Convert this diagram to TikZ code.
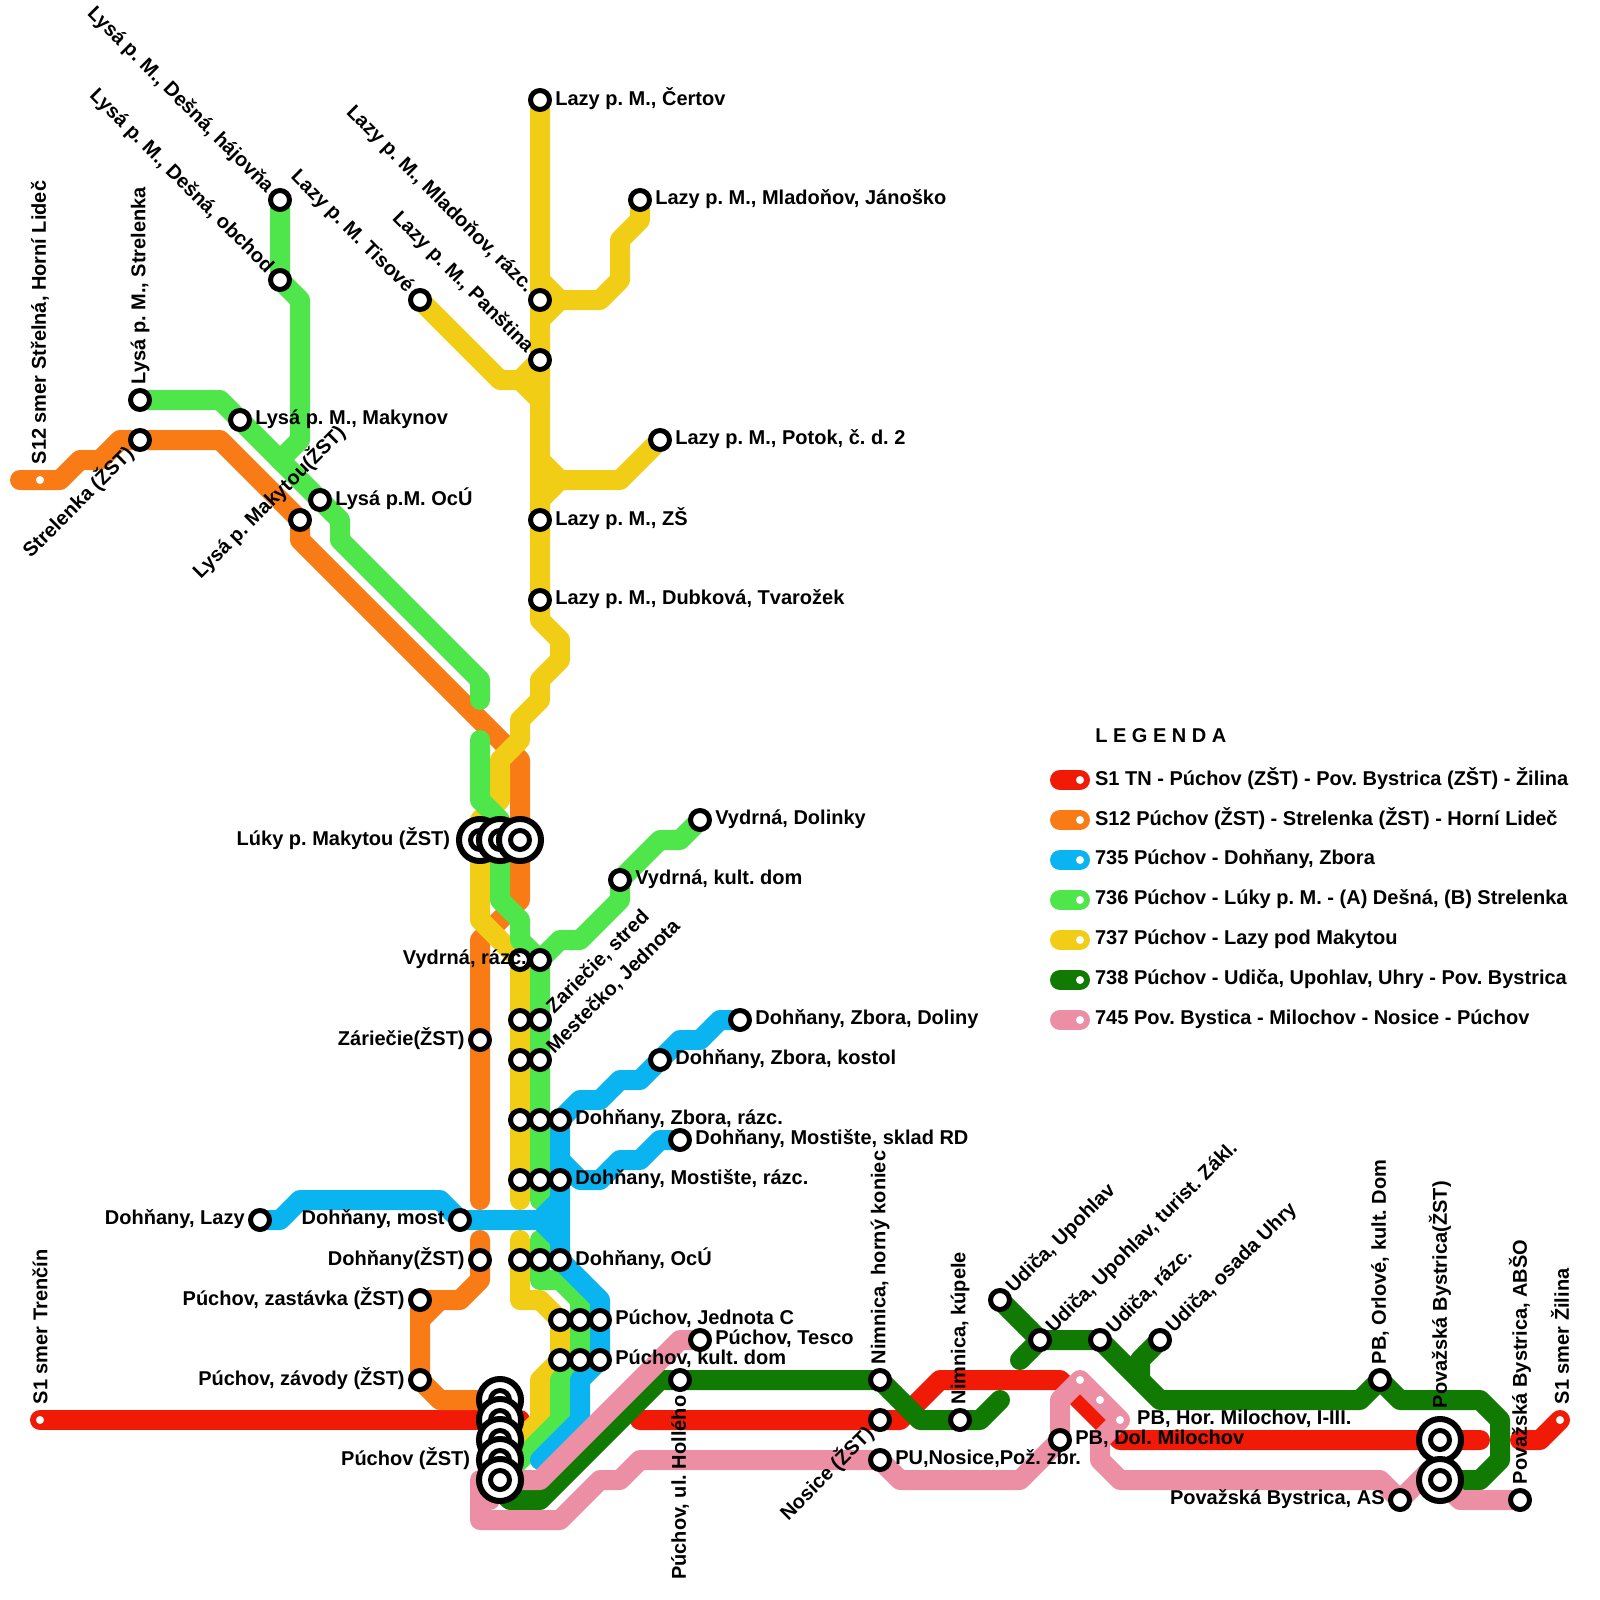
\documentclass[tikz,border=0pt]{standalone}
\usepackage{fontspec}
\setmainfont{Liberation Sans}
\usetikzlibrary{positioning, backgrounds}
\definecolor{cred}{RGB}{240, 26, 7}
\definecolor{corg}{RGB}{249, 123, 21}
\definecolor{cblu}{RGB}{10, 180, 240}
\definecolor{cgrn}{RGB}{79, 230, 75}
\definecolor{cyel}{RGB}{241, 206, 21}
\definecolor{cdgr}{RGB}{17, 122, 2}
\definecolor{cpnk}{RGB}{236, 143, 165}
\frenchspacing

\begin{document}
\begin{tikzpicture}[
    x=0.5cm, y=-0.5cm,
    route/.style={draw=#1, line width=14.23pt, line cap=round, line join=round},
    stop/.style={circle, draw=black, fill=white, line width=3.56pt, minimum size=13.5pt, inner sep=0pt},
    hub/.style={circle, draw=black, fill=white, line width=4.27pt, minimum size=29.9pt, inner sep=0pt},
    enddot/.style={circle, fill=white, minimum size=5.7pt, inner sep=0pt},
    lbl/.style={font=\fontsize{14.23}{16}\selectfont\bfseries, inner sep=0pt},
    lbh/.style={lbl, yshift=0.7pt},
    lup/.style={lbl, rotate=90, anchor=west, xshift=11pt},
    ldn/.style={lbl, rotate=90, anchor=east, xshift=-11pt},
    lne/.style={lbl, rotate=45, anchor=west, xshift=10pt},
    lsw/.style={lbl, rotate=45, anchor=east, xshift=-10pt},
    lnw/.style={lbl, rotate=-45, anchor=east, xshift=-10pt}
  ]
  \useasboundingbox (0,0) rectangle (80,80);
  % stations
  \foreach \a/\x/\y in {certov/27/5, jan/32/10, mlad/27/15, pans/27/18, tis/21/15, potok/33/22, zs/27/26, dub/27/30,
      haj/14/10, obch/14/14, strG/7/20, mak/12/21, ocu/16/25, strO/7/22, lmak/15/26,
      vkult/31/44, vdol/35/41, vrazY/26/48, vrazG/27/48,
      zarY/26/51, zarG/27/51, mesY/26/53, mesG/27/53, zarZ/24/52,
      zrY/26/56, zrG/27/56, zrB/28/56, mrY/26/59, mrG/27/59, mrB/28/59,
      kost/33/53, dol/37/51, skl/34/57, lazy/13/61, most/23/61, dohZ/24/63,
      ocY/26/63, ocG/27/63, ocB/28/63, jY/28/66, jG/29/66, jB/30/66, kY/28/68, kG/29/68, kB/30/68,
      tesco/35/67, zast/21/65, zav/21/69, holl/34/69,
      nimH/44/69, nosZ/44/71, nosP/44/73, kup/48/71, upo/50/65, tur/52/67, raz/55/67, osa/58/67,
      dolm/53/72, orl/69/69, as/70/75, abso/76/75} {
    \node[stop] (\a) at (\x,\y) {};
  }
  \foreach \a/\x/\y in {lukyA/24/42, lukyB/25/42, lukyC/26/42, puA/25/70, puB/25/71, puC/25/72, puD/25/73, puE/25/74,
      bysA/72/72, bysB/72/74} {
    \node[hub] (\a) at (\x,\y) {};
    \node[stop] (\a i) at (\a) {};
  }
  \foreach \a/\x/\y in {tn/2/71, s12/2/24, zil/78/71, kupA/54/69, kupB/55/70, hor/56/71} {
    \node[enddot] (\a) at (\x,\y) {};
  }
  % lines
  \begin{scope}[on background layer]
    \draw[route=cred] (tn.center) -- (26,71);
    \draw[route=cred] (32,71) -- (nosZ.center) -- (45,71) -- (47,69) -- (53,69) -- (56,72) -- (bysA.center) -- (74,72);
    \draw[route=cred] (76,72) -- (77,72) -- (zil.center);

    \draw[route=corg] (1,24) -- (s12.center) -- (3,24) -- (4,23) -- (5,23) -- (6,22) -- (strO.center) -- (11,22) -- (lmak.center) -- (15,27) -- (26,38) -- (26,45) -- (24,47) -- (zarZ.center) -- (24,60);
    \draw[route=corg] (24,62) -- (dohZ.center) -- (24,64) -- (23,65) -- (zast.center) -- (zav.center) -- (22,70) -- (puA.center);
    \draw[route=corg] (22,65) -- (21,66);

    \draw[route=cyel] (certov.center) -- (mlad.center) -- (pans.center) -- (zs.center) -- (dub.center) -- (27,31) -- (28,32) -- (28,33) -- (27,34) -- (27,35) -- (26,36) -- (26,37) -- (25,38) -- (25,40) -- (24,41) -- (24,46) -- (vrazY.center) -- (zarY.center) -- (mesY.center) -- (zrY.center) -- (mrY.center) -- (26,60);
    \draw[route=cyel] (26,62) -- (ocY.center) -- (26,65) -- (27,65) -- (jY.center) -- (kY.center) -- (27,69) -- (27,71) -- (puD.center);
    \draw[route=cyel] (27,14) -- (28,15) -- (30,15) -- (31,14) -- (31,12) -- (32,11) -- (jan.center);
    \draw[route=cyel] (27,16) -- (28,15);
    \draw[route=cyel] (tis.center) -- (25,19) -- (26,19) -- (pans.center);
    \draw[route=cyel] (26,19) -- (27,20);
    \draw[route=cyel] (27,23) -- (28,24) -- (31,24) -- (potok.center);
    \draw[route=cyel] (27,25) -- (28,24);

    \draw[route=cgrn] (strG.center) -- (11,20) -- (17,26) -- (17,27) -- (24,34) -- (24,35);
    \draw[route=cgrn] (haj.center) -- (obch.center) -- (15,15) -- (15,22) -- (14,23);
    \draw[route=cgrn] (24,37) -- (24,40) -- (25,41) -- (25,45) -- (26,46) -- (26,47) -- (vrazG.center) -- (zarG.center) -- (mesG.center) -- (zrG.center) -- (mrG.center) -- (27,60);
    \draw[route=cgrn] (vrazG.center) -- (28,47) -- (29,47) -- (31,45) -- (vkult.center) -- (33,42) -- (34,42) -- (vdol.center);
    \draw[route=cgrn] (27,62) -- (ocG.center) -- (27,64) -- (28,64) -- (29,65) -- (jG.center) -- (kG.center) -- (28,69) -- (28,71) -- (puE.center);

    \draw[route=cblu] (lazy.center) -- (14,61) -- (15,60) -- (22,60) -- (most.center) -- (27,61) -- (28,60);
    \draw[route=cblu] (zrB.center) -- (mrB.center) -- (ocB.center) -- (30,65) -- (jB.center) -- (kB.center) -- (29,69) -- (29,71) -- (27,73);
    \draw[route=cblu] (27,61) -- (28,62);
    \draw[route=cblu] (zrB.center) -- (29,55) -- (30,55) -- (31,54) -- (32,54) -- (kost.center) -- (34,52) -- (35,52) -- (36,51) -- (dol.center);
    \draw[route=cblu] (28,58) -- (29,59) -- (30,59) -- (31,58) -- (32,58) -- (33,57) -- (skl.center);

    \draw[route=cdgr] (bysB.center) -- (74,74) -- (75,73) -- (75,71) -- (74,70) -- (70,70) -- (orl.center) -- (68,70) -- (58,70) -- (raz.center) -- (tur.center) -- (upo.center);
    \draw[route=cdgr] (tur.center) -- (51,68);
    \draw[route=cdgr] (osa.center) -- (57,68) -- (57,69);
    \draw[route=cdgr] (24.5,74) -- (25.5,75) -- (27,75) -- (33,69) -- (holl.center) -- (nimH.center) -- (46,71) -- (kup.center) -- (49,71) -- (50,70);

    \draw[route=cpnk] (abso.center) -- (73,75) -- (bysB.center);
    \draw[route=cpnk] (72,73) -- (as.center) -- (69,74) -- (56,74) -- (55,73) -- (55,72) -- (hor.center) -- (kupA.center) -- (53,70) -- (dolm.center) -- (51,74) -- (45,74) -- (nosP.center) -- (32,73) -- (31,74) -- (30,74) -- (28,76) -- (24,76) -- (24,74) -- (27,74) -- (34,67) -- (tesco.center);
    \draw[route=cpnk] (24,75) -- (24.5,75);
  \end{scope}
  % labels
  \foreach \a/\t in {certov/{Lazy p. M., Čertov}, jan/{Lazy p. M., Mladoňov, Jánoško}, potok/{Lazy p. M., Potok, č. d. 2},
      zs/{Lazy p. M., ZŠ}, dub/{Lazy p. M., Dubková, Tvarožek}, mak/{Lysá p. M., Makynov}, ocu/{Lysá p.M. OcÚ},
      vkult/{Vydrná, kult. dom}, vdol/{Vydrná, Dolinky}, dol/{Dohňany, Zbora, Doliny}, kost/{Dohňany, Zbora, kostol},
      zrB/{Dohňany, Zbora, rázc.}, skl/{Dohňany, Mostište, sklad RD}, mrB/{Dohňany, Mostište, rázc.}, ocB/{Dohňany, OcÚ},
      jB/{Púchov, Jednota C}, kB/{Púchov, kult. dom}, tesco/{Púchov, Tesco}, nosP/{PU,Nosice,Pož. zbr.}, dolm/{PB, Dol. Milochov}} {
    \node[lbh, right=2.2pt of \a] (l\a) {\t};
  }
  \foreach \a/\t in {zarZ/{Záriečie(ŽST)}, lazy/{Dohňany, Lazy}, most/{Dohňany, most}, dohZ/{Dohňany(ŽST)},
      zast/{Púchov, zastávka (ŽST)}, zav/{Púchov, závody (ŽST)}, as/{Považská Bystrica, AS}} {
    \node[lbh, left=2.2pt of \a] (l\a) {\t};
  }
  \node[lbh, left=4pt of lukyA] (lluky) {Lúky p. Makytou (ŽST)};
  \node[lbh, left=4pt of puD] (lpuch) {Púchov (ŽST)};
  \node[lbh, anchor=east] (lvraz) at ([xshift=5pt]vrazY) {Vydrná, rázc.};
  \node[lbh, right=9pt of hor] (lhor) {PB, Hor. Milochov, I-III.};
  \foreach \a/\t in {s12/{S12 smer Střelná, Horní Lideč}, strG/{Lysá p. M., Strelenka}, tn/{S1 smer Trenčín}, nimH/{Nimnica, horný koniec},
      kup/{Nimnica, kúpele}, orl/{PB, Orlové, kult. Dom}, abso/{Považská Bystrica, ABŠO}, zil/{S1 smer Žilina}} {
    \node[lup] (l\a) at (\a) {\t};
  }
  \node[lup, xshift=11.5pt] (lbys) at (bysA) {Považská Bystrica(ŽST)};
  \node[ldn] (lholl) at (holl) {Púchov, ul. Hollého};
  \foreach \a/\t in {zarG/{Zariečie, stred}, mesG/{Mestečko, Jednota}, upo/{Udiča, Upohlav}, tur/{Udiča, Upohlav, turist. Zákl.},
      raz/{Udiča, rázc.}, osa/{Udiča, osada Uhry}} {
    \node[lne] (l\a) at (\a) {\t};
  }
  \foreach \a/\t in {strO/{Strelenka (ŽST)}, lmak/{Lysá p. Makytou(ŽST)}, nosZ/{Nosice (ŽST)}} {
    \node[lsw] (l\a) at (\a) {\t};
  }
  \foreach \a/\t in {haj/{Lysá p. M., Dešná, hájovňa}, obch/{Lysá p. M., Dešná, obchod}, tis/{Lazy p. M. Tisové},
      mlad/{Lazy p. M., Mladoňov, rázc.}, pans/{Lazy p. M., Panština}} {
    \node[lnw] (l\a) at (\a) {\t};
  }
  % legend
  \node[lbh, anchor=west] (leghead) at (54.75,36.85) {L E G E N D A};
  \foreach \c/\y/\t in {cred/39/{S1 TN - Púchov (ZŠT) - Pov. Bystrica (ZŠT) - Žilina},
      corg/41/{S12 Púchov (ŽST) - Strelenka (ŽST) - Horní Lideč},
      cblu/43/{735 Púchov - Dohňany, Zbora},
      cgrn/45/{736 Púchov - Lúky p. M. - (A) Dešná, (B) Strelenka},
      cyel/47/{737 Púchov - Lazy pod Makytou},
      cdgr/49/{738 Púchov - Udiča, Upohlav, Uhry - Pov. Bystrica},
      cpnk/51/{745 Pov. Bystica - Milochov - Nosice - Púchov}} {
    \node[enddot] (leg\y) at (54,\y) {};
    \begin{scope}[on background layer]
      \draw[route=\c] (53,\y) -- (leg\y.center);
    \end{scope}
    \node[lbh, right=7.5pt of leg\y] (legt\y) {\t};
  }
\end{tikzpicture}
\end{document}
